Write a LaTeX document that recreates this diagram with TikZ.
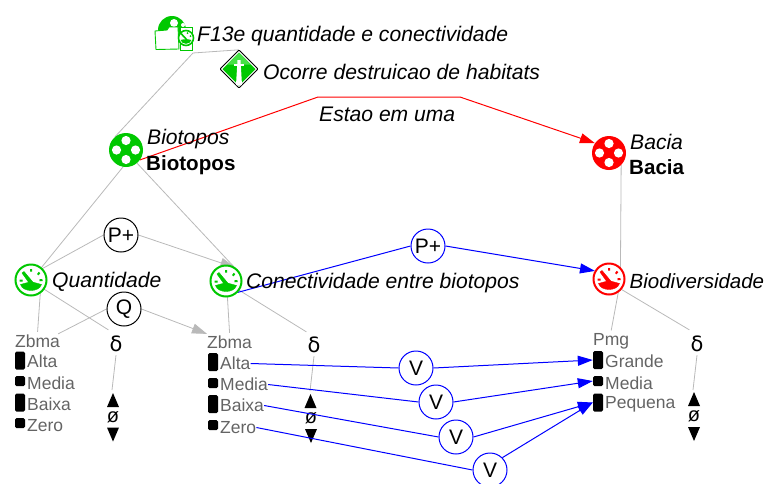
\documentclass[tikz,border=0pt]{standalone}
\usepackage{fontspec}
\setmainfont{Liberation Sans}
\newfontfamily\symfont{DejaVu Sans}
\usetikzlibrary{arrows.meta,shapes.geometric}
\definecolor{icgreen}{RGB}{0,200,0}
\definecolor{lightgreen}{RGB}{70,225,70}
\definecolor{linegray}{RGB}{185,185,185}
\definecolor{labgray}{RGB}{100,100,100}
\definecolor{linkblue}{RGB}{0,0,255}
\tikzset{
  lbl/.style={anchor=west,inner sep=0pt,font=\fontsize{21.1}{23}\selectfont\itshape},
  boldlbl/.style={anchor=west,inner sep=0pt,font=\fontsize{20.6}{23}\selectfont\bfseries},
  statelbl/.style={anchor=west,inner sep=0pt,text=labgray,font=\fontsize{17.5}{19}\selectfont},
  bar/.style={fill=black,rounded corners=1.5pt,inner sep=0pt,minimum width=10pt},
  tallbar/.style={bar,minimum height=18pt},
  shortbar/.style={bar,minimum height=10pt},
  oper/.style={circle,draw=#1,line width=1pt,fill=white,minimum size=34pt,inner sep=0pt,font=\fontsize{21}{23}\selectfont},
  ball/.style={circle,fill=#1,minimum size=34pt,inner sep=0pt},
  gauge/.style={circle,draw=#1,line width=1.4pt,fill=white,minimum size=31pt,inner sep=0pt},
  symb/.style={inner sep=0pt,font=\symfont\fontsize{21}{23}\selectfont},
  nul/.style={inner sep=0pt,font=\fontsize{20}{21}\selectfont},
  gline/.style={draw=linegray,line width=0.8pt},
  garrow/.style={gline,-{Triangle[length=15pt,width=10pt,fill=linegray]}},
  bline/.style={draw=linkblue,line width=1pt},
  barrow/.style={bline,-{Triangle[length=15pt,width=10pt,fill=linkblue]}},
  rarrow/.style={draw=red,line width=1pt,-{Triangle[length=15pt,width=10pt,fill=red]}},
  holes/.pic={
    \foreach \p in {(0,-9.5),(-9.5,0),(9.5,0),(0,9.5)} \fill[white] \p circle (4.6);
  },
  dial/.pic={
    \fill[pic actions] (-10.5,4.5) .. controls (-5,3) and (-2,2) .. (0,2) .. controls (2,2) and (5,3) .. (10.5,4.5)
       .. controls (8,12.5) and (-8,12.5) .. cycle;
    \fill[pic actions] (-9,-7) -- (-7,-8.5) -- (3.5,4) -- (-0.5,5) -- cycle;
    \draw[pic actions,line width=2pt] (-11.5,0.6) -- (-8.5,0.6) (0,-11) -- (0,-8.3)
       (8.5,-7.5) -- (6.8,-5.3) (11.5,0) -- (8.5,0.3);
  },
  uptri/.pic={\fill[black] (-6,7) -- (6,7) -- (0,-7) -- cycle;},
  downtri/.pic={\fill[black] (-6,-7) -- (6,-7) -- (0,7) -- cycle;}
}
\begin{document}
\begin{tikzpicture}[x=1pt,y=-1pt]
\useasboundingbox (0,0) rectangle (766,483);

\coordinate (kink1) at (193,53);
\coordinate (redA) at (318,97);
\coordinate (redB) at (460,97);

% named placement of the icons, painted further down over the connectors
\path
  node[ball=icgreen,fill=none] (bio) at (126,150) {}
  node[ball=red,fill=none] (bac) at (609,153) {}
  node[gauge=icgreen,draw=none,fill=none] (qua) at (31,280) {}
  node[gauge=icgreen,draw=none,fill=none] (con) at (226,281) {}
  node[gauge=red,draw=none,fill=none] (div) at (609,279) {}
  node[diamond,minimum size=38pt,inner sep=0pt] (occ) at (239,69) {}
  node[oper=black,draw=none,fill=none] (pq) at (121,235) {}
  node[oper=black,draw=none,fill=none] (q) at (124,309) {}
  node[oper=linkblue,draw=none,fill=none] (pc) at (428,246) {}
  node[oper=linkblue,draw=none,fill=none] (v1) at (416,368) {}
  node[oper=linkblue,draw=none,fill=none] (v2) at (436,402) {}
  node[oper=linkblue,draw=none,fill=none] (v3) at (456,437) {}
  node[oper=linkblue,draw=none,fill=none] (v4) at (490,470) {};

% state lists
\node[statelbl] (zq) at (15,341.5) {Zbma};
\node[tallbar]  (qb1) at (20,360.5) {};
\node[shortbar] (qb2) at (20,381) {};
\node[tallbar]  (qb3) at (20,402.5) {};
\node[shortbar] (qb4) at (20,423) {};
\node[statelbl] (qs1) at (27,361.5) {Alta};
\node[statelbl] (qs2) at (27,383.5) {Media};
\node[statelbl] (qs3) at (27,404.5) {Baixa};
\node[statelbl] (qs4) at (27,425.5) {Zero};

\node[statelbl] (zc) at (207,342.5) {Zbma};
\node[tallbar]  (cb1) at (213,362) {};
\node[shortbar] (cb2) at (213,383) {};
\node[tallbar]  (cb3) at (213,404) {};
\node[shortbar] (cb4) at (213,425) {};
\node[statelbl] (cs1) at (220,363.5) {Alta};
\node[statelbl] (cs2) at (220,384.5) {Media};
\node[statelbl] (cs3) at (220,405.5) {Baixa};
\node[statelbl] (cs4) at (220,427.5) {Zero};

\node[statelbl] (pm) at (593,341.5) {Pmg};
\node[tallbar]  (pb1) at (598,360) {};
\node[shortbar] (pb2) at (598,381) {};
\node[tallbar]  (pb3) at (598,402.5) {};
\node[statelbl] (ps1) at (605,361.5) {Grande};
\node[statelbl] (ps2) at (605,383.5) {Media};
\node[statelbl] (ps3) at (605,404.5) {Pequena};

% delta and null symbols
\node[symb] (dq) at (116,344) {δ};
\node[symb] (dc) at (314,345) {δ};
\node[symb] (dp) at (697,344) {δ};
\node[nul] (nq) at (113,417) {ø};
\node[nul] (nc) at (311,418) {ø};
\node[nul] (np) at (694,416) {ø};
\coordinate (tq) at (112,390);
\coordinate (tc) at (310,391);
\coordinate (tp) at (693,390);
\pic at (113,400) {uptri};
\pic at (310.5,401) {uptri};
\pic at (694,399) {uptri};
\pic at (113,434.5) {downtri};
\pic at (311,436) {downtri};
\pic at (694,434) {downtri};

% gray connectors
\draw[gline] (bio.130) -- (kink1) -- (occ.north);
\draw[gline] (bio.-100) -- (qua.50);
\draw[gline] (bio.-50) -- (con.60);
\draw[gline] (qua.45) -- (pq.west);
\draw[garrow] (pq.east) -- (con.55);
\draw[gline] ([shift={(-2pt,1pt)}]zq.north east) -- (q.west);
\draw[garrow] (q.east) -- ([yshift=2pt]zc.north west);
\draw[gline] (qua.-35) -- ([shift={(-1pt,6pt)}]dq.north west);
\draw[gline] (qua.-55) -- ([yshift=3pt]zq.north);
\draw[gline] (con.-85) -- ([yshift=3pt]zc.north);
\draw[gline] (con.-35) -- ([shift={(-1pt,5pt)}]dc.north west);
\draw[gline] ([yshift=-3pt]dq.south) -- (tq);
\draw[gline] ([yshift=-3pt]dc.south) -- (tc);
\draw[gline] ([yshift=-3pt]dp.south) -- (tp);
\draw[gline] (bac.-45) -- (div.45);
\draw[gline] (div.-55) -- ([yshift=3pt]pm.north);
\draw[gline] (div.-40) -- ([shift={(-1pt,6pt)}]dp.north west);

% red connector
\draw[rarrow] (bio.-35) -- (redA) -- (redB) -- (bac.145);

% blue connectors
\draw[bline] (con.-45) -- (pc.west);
\draw[barrow] (pc.east) -- (div.150);
\draw[bline] (cs1.east) -- (v1.west);
\draw[barrow] (v1.east) -- (pb1.west);
\draw[bline] (cs2.east) -- (v2.west);
\draw[barrow] (v2.east) -- (pb2.west);
\draw[bline] (cs3.east) -- (v3.west);
\draw[barrow] (v3.east) -- (pb3.west);
\draw[bline] (cs4.east) -- (v4.west);
\draw[barrow] (v4.45) -- (pb3.west);

% icons over the lines
\fill[icgreen] (bio) circle (17);
\pic at (bio) {holes};
\fill[red] (bac) circle (17);
\pic at (bac) {holes};
\foreach \n/\c in {qua/icgreen,con/icgreen,div/red}{
  \draw[\c,line width=2pt,fill=white] (\n) circle (15.5);
  \pic[fill=\c,draw=\c] at (\n) {dial};
}
% F13e composite icon
\node[ball=icgreen,minimum size=28pt] (f13) at (172,30) {};
\fill[white] (174,23) circle (4);
\fill[white] (183,25) circle (2);
\draw[icgreen,line width=0.8pt,fill=white] (180,27) rectangle (192,50);
\draw[icgreen,line width=0.9pt,fill=white] (155,31) -- (167,30) -- (169,27) -- (178,27) -- (179,49) -- (156,49.5) -- cycle;
\node[circle,draw=icgreen,line width=1.6pt,fill=white,minimum size=15pt,inner sep=0pt] (clk) at (186,38) {};
\draw[icgreen,line width=1.6pt] (181,33.5) -- (187,40);
\fill[icgreen] (180.5,40) .. controls (184,39) and (188,39) .. (191.5,40) .. controls (190,45) and (182,45) .. (180.5,40) -- cycle;
\fill[icgreen] (187.5,33) circle (1) (190.5,36) circle (1);
% diamond
\draw[black,line width=1pt,fill=white,rounded corners=1pt] (220,69) -- (239,50) -- (258,69) -- (239,88) -- cycle;
\fill[icgreen] (222.5,69) -- (239,52.5) -- (255.5,69) -- (239,85.5) -- cycle;
\fill[lightgreen] (227,64.5) -- (239,52.5) -- (251,64.5) -- cycle;
\fill[white] (237.5,60) -- (240.5,60) -- (242,85) -- (236,85) -- cycle;
\fill[white] (234,63.5) rectangle (244,66);

% operator circles
\node[oper=black] at (pq) {P+};
\node[oper=black] at (q) {Q};
\node[oper=linkblue] at (pc) {P+};
\node[oper=linkblue] at (v1) {V};
\node[oper=linkblue] at (v2) {V};
\node[oper=linkblue] at (v3) {V};
\node[oper=linkblue] at (v4) {V};

% labels
\node[lbl] (tf) at (197,36) {F13e quantidade e conectividade};
\node[lbl] (to) at (263,72) {Ocorre destruicao de habitats};
\node[lbl] (te) at (319,114) {Estao em uma};
\node[lbl] (tb1) at (147,139) {Biotopos};
\node[boldlbl] (tb2) at (146,165.5) {Biotopos};
\node[lbl] (tc1) at (630,141.5) {Bacia};
\node[boldlbl] (tc2) at (629,167.5) {Bacia};
\node[lbl] (tq1) at (52,282) {Quantidade};
\node[lbl] (tc3) at (246,283) {Conectividade entre biotopos};
\node[lbl,font=\fontsize{20.5}{23}\selectfont\itshape] (td) at (629.5,281) {Biodiversidade};
\end{tikzpicture}
\end{document}
